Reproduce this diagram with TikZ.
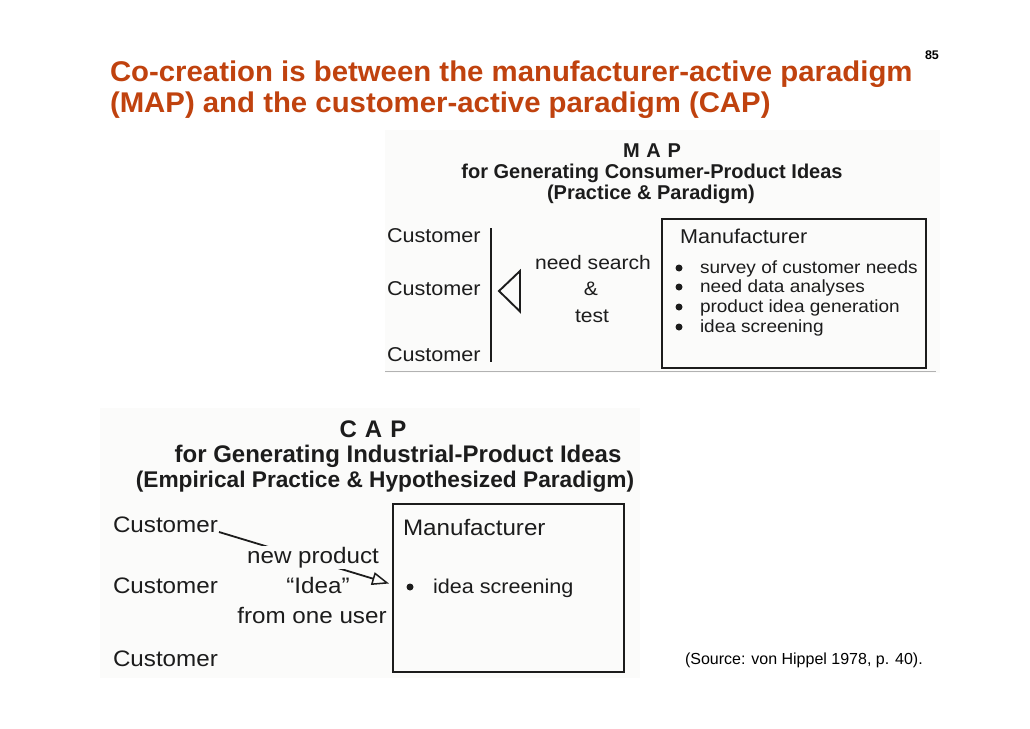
\documentclass[tikz,border=0pt]{standalone}
\usepackage{fontspec}
\setmainfont{Liberation Sans}
\newfontfamily\titlefont[FakeStretch=1.03]{Liberation Sans}
\newfontfamily\diagfont[FakeStretch=1.08]{Liberation Sans}
\usetikzlibrary{arrows.meta}
\definecolor{titlered}{RGB}{192,66,14}
\definecolor{ink}{RGB}{28,28,28}
\definecolor{scanbg}{RGB}{251,251,250}
\begin{document}
\begin{tikzpicture}[x=1pt,y=-1pt,
  every node/.style={inner sep=0pt,outer sep=0pt,text=ink},
  slidetitle/.style={font=\titlefont\bfseries\fontsize{28.5}{30}\selectfont,text=titlered,anchor=base west},
  pagenum/.style={font=\bfseries\fontsize{12.5}{14}\selectfont,text=black,anchor=base west},
  maphead/.style={font=\bfseries\fontsize{20}{22}\selectfont,anchor=base},
  caphead/.style={font=\bfseries\fontsize{24}{26}\selectfont,anchor=base},
  caphead3/.style={font=\bfseries\fontsize{22.7}{26}\selectfont,anchor=base},
  maptext/.style={font=\diagfont\fontsize{20}{22}\selectfont,anchor=base west},
  mapmid/.style={font=\diagfont\fontsize{19.5}{22}\selectfont,anchor=base},
  mapitem/.style={font=\diagfont\fontsize{17.6}{20}\selectfont,anchor=base west},
  captext/.style={font=\diagfont\fontsize{22.4}{24}\selectfont,anchor=base west},
  capmid/.style={font=\diagfont\fontsize{22.4}{24}\selectfont,anchor=base},
  capitem/.style={font=\diagfont\fontsize{20}{22}\selectfont,anchor=base west},
  mfgbox/.style={draw=ink,line width=2.4pt},
  bulletdot/.style={circle,fill=ink,minimum size=7pt,inner sep=0pt},
  source/.style={font=\fontsize{16}{18}\selectfont,anchor=base west,text=black}
]
\useasboundingbox (0,0) rectangle (1030,728);
\fill[white] (0,0) rectangle (1030,728);

% scanned panels
\fill[scanbg] (385,130) rectangle (940,373);
\fill[scanbg] (100,408) rectangle (640,678);
\draw[gray!60,line width=1pt] (385,371) -- (936,371);

% slide title
\node[slidetitle] (t1) at (110,81) {Co-creation is between the manufacturer-active paradigm};
\node[slidetitle] (t2) at (110,112.5) {(MAP) and the customer-active paradigm (CAP)};
\node[pagenum] (pg) at (925,59) {85};

% ---------------- MAP ----------------
\node[maphead] (maph1) at (652,157) {M\,\,A\,\,P};
\node[maphead] (maph2) at (652,178) {for Generating Consumer-Product Ideas};
\node[maphead] (maph3) at (651,199) {(Practice \& Paradigm)};

\node[maptext] (mc1) at (387,242) {Customer};
\node[maptext] (mc2) at (387,295.5) {Customer};
\node[maptext] (mc3) at (387,361) {Customer};

\coordinate (vtop) at (491,228);
\coordinate (vbot) at (491,362);
\draw[ink,line width=1.8pt] (vtop) -- (vbot);
\draw[ink,line width=1.9pt,line join=miter] (520,271) -- (499,291) -- (520,311.5) -- cycle;

\node[mapmid] (ns) at (593,269) {need search};
\node[mapmid] (amp) at (591,295.5) {\&};
\node[mapmid] (tst) at (592,322) {test};

\draw[mfgbox] (662,219) rectangle (926,368);
\node[maptext] (mmfg) at (680,243) {Manufacturer};
\foreach \y/\t [count=\i] in {273.5/survey of customer needs,292.5/need data analyses,312.5/product idea generation,332.5/idea screening}{
  \node[bulletdot] (mb\i) at (679,\y-5.5) {};
  \node[mapitem] (mi\i) at (700,\y) {\t};
}

% ---------------- CAP ----------------
\node[caphead] (caph1) at (373,437) {C\,\,A\,\,P};
\node[caphead] (caph2) at (398,462) {for Generating Industrial-Product Ideas};
\node[caphead3] (caph3) at (385,487) {(Empirical Practice \& Hypothesized Paradigm)};

\node[captext] (cc1) at (113,532) {Customer};
\node[captext] (cc2) at (113,593) {Customer};
\node[captext] (cc3) at (113,666) {Customer};

\draw[mfgbox] (393,504) rectangle (624,672);
\node[captext] (cmfg) at (403,535) {Manufacturer};
\node[bulletdot] (cb1) at (410,587) {};
\node[capitem] (ci1) at (433,593) {idea screening};

\coordinate (arrstart) at (219,532);
\coordinate (arrend) at (389,583.5);
\draw[ink,line width=1.8pt,-{Triangle[open,length=17pt,width=13pt,line width=1.5pt]}] (arrstart) -- (arrend);

\node[capmid,fill=scanbg,inner ysep=1pt] (np) at (313,563) {new product};
\node[capmid] (idea) at (318,593) {“Idea”};
\node[capmid] (from) at (312,623) {from one user};

\node[source] (src) at (685,664) {(Source: von Hippel 1978, p. 40).};
\end{tikzpicture}
\end{document}
